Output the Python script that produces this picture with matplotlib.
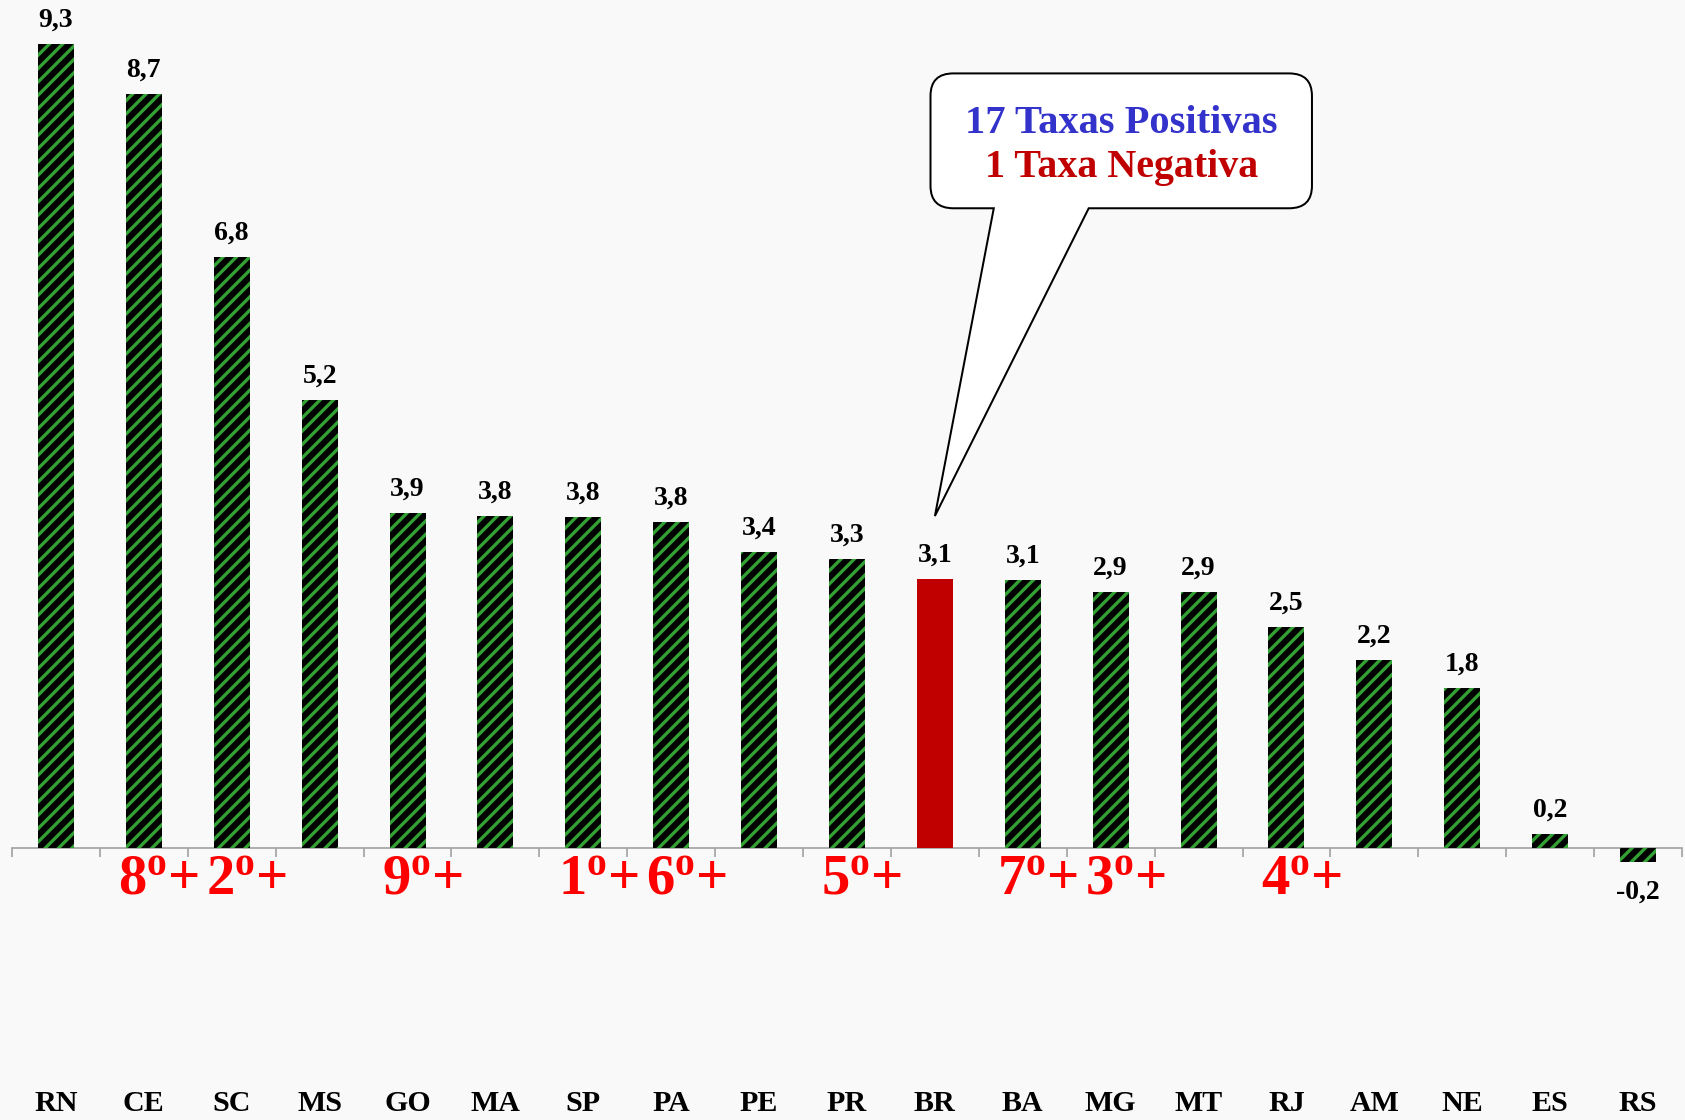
import matplotlib
matplotlib.use("Agg")
import matplotlib.pyplot as plt
from matplotlib.path import Path
from matplotlib.patches import PathPatch

# ---------------- data ----------------
categories = ["RN", "CE", "SC", "MS", "GO", "MA", "SP", "PA", "PE", "PR",
              "BR", "BA", "MG", "MT", "RJ", "AM", "NE", "ES", "RS"]
values = [9.30, 8.72, 6.84, 5.18, 3.88, 3.84, 3.83, 3.77, 3.42, 3.34,
          3.11, 3.10, 2.96, 2.96, 2.56, 2.18, 1.85, 0.16, -0.16]
value_labels = ["9,3", "8,7", "6,8", "5,2", "3,9", "3,8", "3,8", "3,8", "3,4", "3,3",
                "3,1", "3,1", "2,9", "2,9", "2,5", "2,2", "1,8", "0,2", "-0,2"]
ranks = [None, 8, 2, None, 9, None, 1, 6, None, 5,
         None, 7, 3, None, 4, None, None, None, None]
highlight = "BR"
callout_lines = ["17 Taxas Positivas", "1 Taxa Negativa"]

# ---------------- style ----------------
BG = "#f9f9f9"
GREEN = "#33a033"
DARKRED = "#c00000"
BLUE = "#3333cc"
AXISGRAY = "#a6a6a6"
SERIF = "Liberation Serif"

DPI = 80
plt.rcParams["hatch.linewidth"] = 3.0
plt.rcParams["hatch.color"] = GREEN
plt.rcParams["mathtext.fontset"] = "custom"
plt.rcParams["mathtext.bf"] = "Liberation Serif:bold"
plt.rcParams["mathtext.rm"] = "Liberation Serif:bold"
plt.rcParams["mathtext.it"] = "Liberation Serif:bold"

fig = plt.figure(figsize=(1685 / DPI, 1120 / DPI), dpi=DPI, facecolor=BG)
ax = fig.add_axes([12 / 1685, 0, 1670 / 1685, 1])
ax.set_facecolor(BG)

x = list(range(len(categories)))
for i, (c, v) in enumerate(zip(categories, values)):
    if c == highlight:
        ax.bar(i, v, width=0.41, color=DARKRED, edgecolor=DARKRED, linewidth=0, zorder=3)
    else:
        ax.bar(i, v, width=0.41, facecolor="black", edgecolor=GREEN,
               hatch="//", linewidth=0, zorder=3)

# value labels
for i, (v, lab) in enumerate(zip(values, value_labels)):
    if v >= 0:
        ax.annotate(lab, (i, v), xytext=(0, 15.5), textcoords="offset points",
                    ha="center", va="baseline", fontsize=25, fontweight="bold",
                    family=SERIF, color="black", zorder=5)
    else:
        ax.annotate(lab, (i, v), xytext=(0, -33), textcoords="offset points",
                    ha="center", va="baseline", fontsize=25, fontweight="bold",
                    family=SERIF, color="black", zorder=5)

# rank labels
for i, r in enumerate(ranks):
    if r is None:
        continue
    ax.text(i + 0.17, -0.53, rf"$\mathbf{{{r}}}^{{\mathbf{{o}}}}$+",
            ha="center", va="baseline", fontsize=51, fontweight="bold",
            family=SERIF, color="#ff0000", zorder=5)

# axes styling
ax.set_xlim(-0.5, len(categories) - 0.5)
ax.set_ylim(-(1120 - 848) / 86.45, 848 / 86.45)
for s in ["left", "right", "top"]:
    ax.spines[s].set_visible(False)
ax.spines["bottom"].set_position(("data", 0))
ax.spines["bottom"].set_color(AXISGRAY)
ax.spines["bottom"].set_linewidth(1.6)
ax.spines["bottom"].set_zorder(2)
ax.set_yticks([])
ax.set_xticks(x, labels=categories)
ax.set_xticks([i - 0.5 for i in range(len(categories) + 1)], minor=True)
ax.tick_params(axis="x", which="major", length=0, pad=218)
ax.tick_params(axis="x", which="minor", length=8, width=1.6, color=AXISGRAY, direction="out")
for t in ax.get_xticklabels():
    t.set_fontsize(27)
    t.set_fontweight("bold")
    t.set_family(SERIF)

# callout box with tail pointing at the highlighted bar
bi = categories.index(highlight)
tip = (bi, values[bi] + 0.73)
x0, x1 = 9.95, 14.29
yb, yt = 7.40, 8.96
rx, ry = 0.26, 0.26
tl, tr = 10.67, 11.75
verts = [(x0 + rx, yt), (x1 - rx, yt), (x1, yt), (x1, yt - ry),
         (x1, yb + ry), (x1, yb), (x1 - rx, yb),
         (tr, yb), tip, (tl, yb),
         (x0 + rx, yb), (x0, yb), (x0, yb + ry),
         (x0, yt - ry), (x0, yt), (x0 + rx, yt), (x0 + rx, yt)]
codes = [Path.MOVETO, Path.LINETO, Path.CURVE3, Path.CURVE3,
         Path.LINETO, Path.CURVE3, Path.CURVE3,
         Path.LINETO, Path.LINETO, Path.LINETO,
         Path.LINETO, Path.CURVE3, Path.CURVE3,
         Path.LINETO, Path.CURVE3, Path.CURVE3, Path.CLOSEPOLY]
ax.add_patch(PathPatch(Path(verts, codes), facecolor="white", edgecolor="black",
                       linewidth=1.8, zorder=6, clip_on=False, joinstyle="miter"))
cx = 12.12
ax.text(cx, 8.27, callout_lines[0], ha="center", va="baseline", fontsize=36.5,
        fontweight="bold", family=SERIF, color=BLUE, zorder=7)
ax.text(cx, 7.76, callout_lines[1], ha="center", va="baseline", fontsize=36,
        fontweight="bold", family=SERIF, color=DARKRED, zorder=7)

fig.savefig("out.png", dpi=DPI, facecolor=BG)
